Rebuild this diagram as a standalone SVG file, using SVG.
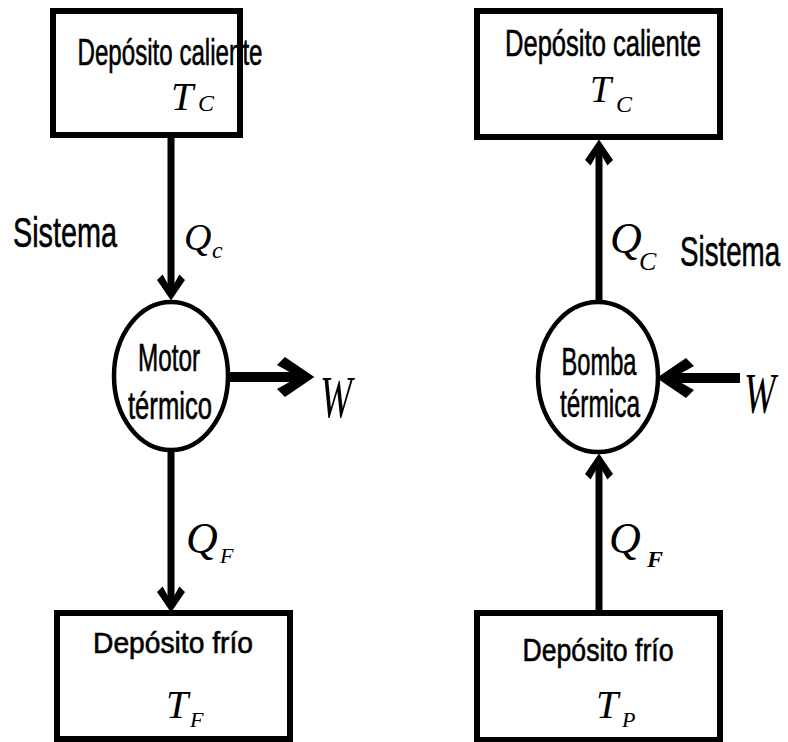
<svg xmlns="http://www.w3.org/2000/svg" width="788" height="742" viewBox="0 0 788 742">
<style>
.box{fill:#fff;stroke:#000;stroke-width:6}
.ell{fill:#fff;stroke:#000;stroke-width:4.5}
.flow{fill:none;stroke:#000;stroke-width:7}
.work{fill:none;stroke:#000;stroke-width:10}
.t{font-family:"Liberation Sans",Arial,sans-serif;fill:#000;stroke:#000;stroke-width:0.6}
.m{font-family:"Liberation Serif","Times New Roman",serif;font-style:italic;fill:#000}
</style>
<defs>
<marker id="chev" viewBox="0 0 30 30" refX="22" refY="15" markerWidth="4" markerHeight="4" orient="auto">
<polygon points="29,15 7,0 1,6 17,15 1,24 7,30" fill="#000"/>
</marker>
</defs>
<rect width="788" height="742" fill="#fff"/>
<g id="connectors">
<line class="flow" x1="171" y1="135" x2="171" y2="294" marker-end="url(#chev)"/>
<line class="flow" x1="171" y1="450" x2="171" y2="606" marker-end="url(#chev)"/>
<line class="work" x1="228" y1="377" x2="305" y2="377" marker-end="url(#chev)"/>
<line class="flow" x1="599" y1="302" x2="599" y2="146" marker-end="url(#chev)"/>
<line class="flow" x1="599" y1="613" x2="599" y2="460" marker-end="url(#chev)"/>
<line class="work" x1="740" y1="378" x2="666" y2="378" marker-end="url(#chev)"/>
</g>
<g id="hot-left">
<rect class="box" x="53" y="11" width="187" height="124"/>
<text class="t" x="170" y="65" font-size="36" text-anchor="middle" textLength="185" lengthAdjust="spacingAndGlyphs">Depósito caliente</text>
<text class="m" x="171" y="110" font-size="40">T</text>
<text class="m" x="198" y="111" font-size="24">C</text>
</g>
<g id="engine">
<ellipse class="ell" cx="171" cy="376" rx="57" ry="74"/>
<text class="t" x="169" y="371" font-size="38" text-anchor="middle" textLength="62" lengthAdjust="spacingAndGlyphs">Motor</text>
<text class="t" x="170" y="419" font-size="38" text-anchor="middle" textLength="84" lengthAdjust="spacingAndGlyphs">térmico</text>
</g>
<g id="cold-left">
<rect class="box" x="57" y="613" width="233" height="126"/>
<text class="t" x="173" y="653" font-size="29" text-anchor="middle" textLength="160" lengthAdjust="spacingAndGlyphs">Depósito frío</text>
<text class="m" x="166" y="718" font-size="40">T</text>
<text class="m" x="190" y="727" font-size="22">F</text>
</g>
<g id="labels-left">
<text class="t" x="13" y="247" font-size="43" textLength="104" lengthAdjust="spacingAndGlyphs">Sistema</text>
<text class="m" x="184" y="250" font-size="38">Q</text>
<text class="m" x="212" y="258" font-size="24">c</text>
<text class="m" x="186" y="553" font-size="44">Q</text>
<text class="m" x="220" y="563" font-size="22">F</text>
<text class="m" x="320" y="417" font-size="60" textLength="32" lengthAdjust="spacingAndGlyphs">W</text>
</g>
<g id="hot-right">
<rect class="box" x="477" y="11" width="243" height="126"/>
<text class="t" x="603" y="56" font-size="37" text-anchor="middle" textLength="196" lengthAdjust="spacingAndGlyphs">Depósito caliente</text>
<text class="m" x="590" y="102" font-size="38">T</text>
<text class="m" x="616" y="112" font-size="24">C</text>
</g>
<g id="pump">
<ellipse class="ell" cx="598" cy="377" rx="60" ry="75"/>
<text class="t" x="599" y="375" font-size="39" text-anchor="middle" textLength="75" lengthAdjust="spacingAndGlyphs">Bomba</text>
<text class="t" x="600" y="417" font-size="39" text-anchor="middle" textLength="80" lengthAdjust="spacingAndGlyphs">térmica</text>
</g>
<g id="cold-right">
<rect class="box" x="477" y="613" width="243" height="127"/>
<text class="t" x="598" y="661" font-size="31" text-anchor="middle" textLength="151" lengthAdjust="spacingAndGlyphs">Depósito frío</text>
<text class="m" x="596" y="718" font-size="40">T</text>
<text class="m" x="622" y="727" font-size="22">P</text>
</g>
<g id="labels-right">
<text class="m" x="610" y="253" font-size="44">Q</text>
<text class="m" x="639" y="270" font-size="26">C</text>
<text class="t" transform="translate(680,266) scale(0.66,1)" x="0" y="0" font-size="42">Sistema</text>
<text class="m" x="609" y="553" font-size="44">Q</text>
<text class="m" x="647" y="567" font-size="24" font-weight="bold">F</text>
<text class="m" transform="translate(744,413) scale(0.65,1)" x="0" y="0" font-size="58">W</text>
</g>
</svg>
